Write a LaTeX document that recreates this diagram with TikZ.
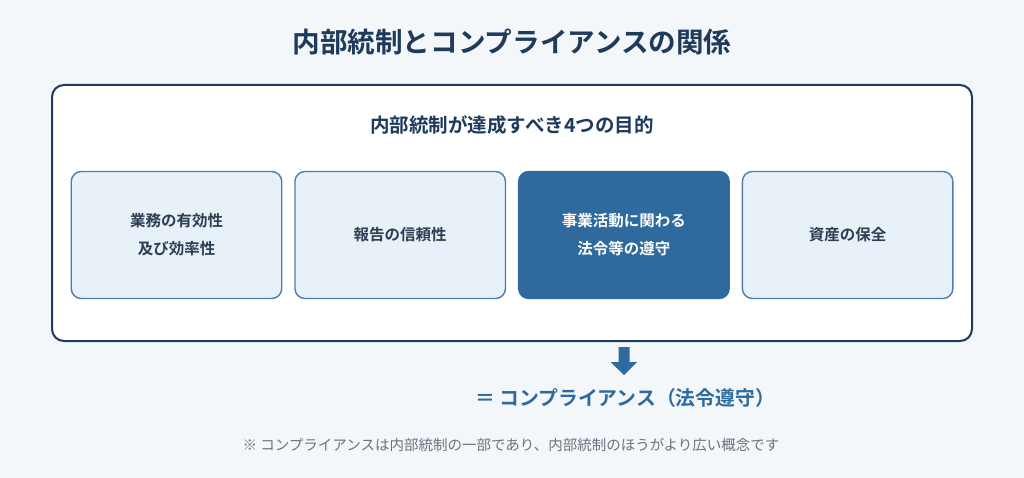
\documentclass[tikz,border=0pt]{standalone}
\usepackage{fontspec}
\usepackage{tikz}
\usetikzlibrary{positioning}
\newfontfamily\jp{Noto Sans CJK JP}[BoldFont={Noto Sans CJK JP Bold}]

\definecolor{bgcol}{HTML}{F4F7FA}
\definecolor{navy}{HTML}{1E3A5C}
\definecolor{boxfill}{HTML}{E8F0F8}
\definecolor{boxline}{HTML}{4F7DA8}
\definecolor{accent}{HTML}{2E6A9E}
\definecolor{textcol}{HTML}{2B3E52}
\definecolor{notecol}{HTML}{6B7280}

\begin{document}
\begin{tikzpicture}[x=1pt,y=-1pt,font=\jp]
\tikzstyle{goal}=[draw=boxline,line width=1.4pt,fill=boxfill,rounded corners=10pt,
	minimum width=210.5pt,minimum height=127pt,inner sep=0pt,outer sep=0pt,align=center,
	text=textcol,font=\jp\bfseries\fontsize{15.5}{28}\selectfont];
\tikzstyle{keygoal}=[goal,draw=accent,fill=accent,text=white];

\fill[bgcol] (0,0) rectangle (1024,478);
\useasboundingbox (0,0) rectangle (1024,478);

\node[text=navy,font=\jp\bfseries\fontsize{27.6}{32}\selectfont] (title) at (512,42) {内部統制とコンプライアンスの関係};

\node[draw=navy,line width=2pt,fill=white,rounded corners=12pt,
	minimum width=920pt,minimum height=256pt] (frame) at (512,213) {};
\node[text=navy,font=\jp\bfseries\fontsize{19.5}{24}\selectfont] (sub) at (512,125) {内部統制が達成すべき4つの目的};

% four goals
\node[goal] (g1) at (176.5,235) {業務の有効性\\及び効率性};
\node[goal,right=13.2pt of g1] (g2) {報告の信頼性};
\node[keygoal,right=13.2pt of g2] (g3) {事業活動に関わる\\法令等の遵守};
\node[goal,right=13.2pt of g3] (g4) {資産の保全};

% block arrow
\coordinate (down) at (624,347);
\fill[accent] (down) ++(-5.5,0) -- ++(11,0) -- ++(0,15) -- ++(7.5,0) -- (624,375)
	-- (610.5,362) -- ++(8,0) -- cycle;

\node[text=accent,font=\jp\bfseries\fontsize{19.8}{24}\selectfont] (comp) at (625,398) {＝ コンプライアンス（法令遵守）};

\node[text=notecol,font=\jp\fontsize{14.5}{18}\selectfont] (note) at (511,445) {※ コンプライアンスは内部統制の一部であり、内部統制のほうがより広い概念です};
\end{tikzpicture}
\end{document}
